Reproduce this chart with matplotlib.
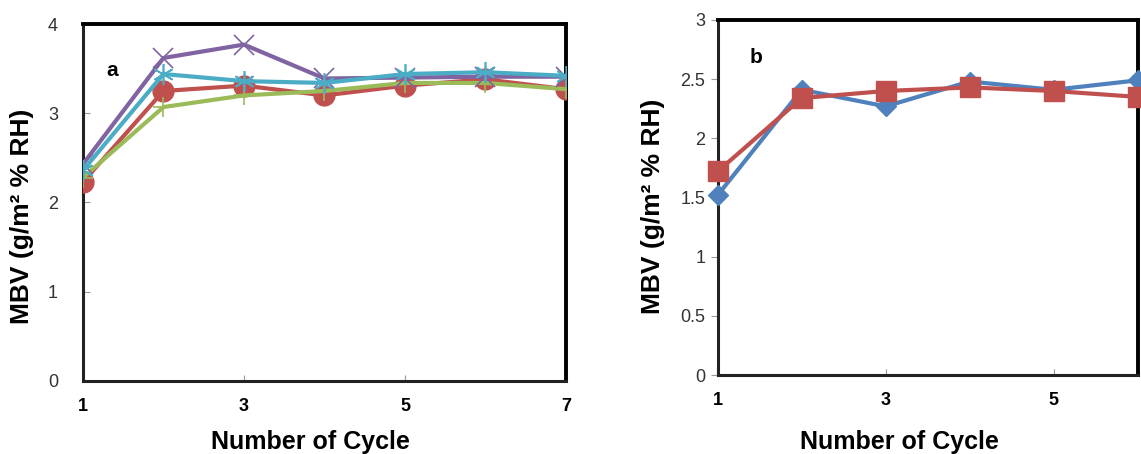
import matplotlib
matplotlib.use('Agg')
import matplotlib.pyplot as plt

plt.rcParams['font.family'] = ['Liberation Sans', 'DejaVu Sans']

cycles_a = [1, 2, 3, 4, 5, 6, 7]
red_a = [2.23, 3.25, 3.31, 3.20, 3.31, 3.38, 3.27]
green_a = [2.28, 3.07, 3.20, 3.25, 3.34, 3.34, 3.27]
purple_a = [2.43, 3.62, 3.77, 3.39, 3.40, 3.41, 3.41]
cyan_a = [2.36, 3.44, 3.36, 3.34, 3.44, 3.46, 3.42]

cycles_b = [1, 2, 3, 4, 5, 6]
blue_b = [1.52, 2.41, 2.27, 2.48, 2.41, 2.49]
red_b = [1.72, 2.34, 2.40, 2.43, 2.40, 2.35]

fig = plt.figure(figsize=(11.41, 4.54), dpi=100)


def style(ax, ydir, ypad, ylab_xy, xlab_xy):
    for s in ['top', 'right']:
        ax.spines[s].set_linewidth(2.8)
        ax.spines[s].set_color('black')
    for s in ['left', 'bottom']:
        ax.spines[s].set_linewidth(2.2)
        ax.spines[s].set_color('#222222')
    ax.tick_params(axis='y', direction=ydir, length=5, width=0.8, color='#999999',
                   labelsize=13, labelcolor='#333333', pad=ypad)
    ax.tick_params(axis='x', direction='in', length=4, width=0.8, color='#999999',
                   labelsize=13, pad=12)
    for lab in ax.get_xticklabels():
        lab.set_fontweight('bold')
    ax.set_xlabel('Number of Cycle', fontsize=18, fontweight='bold')
    ax.set_ylabel('MBV (g/m² % RH)', fontsize=19, fontweight='bold')
    ax.yaxis.set_label_coords(*ylab_xy)
    ax.xaxis.set_label_coords(*xlab_xy)
    ax.xaxis.label.set_va('center')
    ax.yaxis.label.set_va('center')


# panel a
ax1 = fig.add_axes([0.0727, 0.161, 0.4233, 0.786])
ax1.plot(cycles_a, red_a, color='#C0504D', lw=3, marker='o', ms=15, zorder=3)
ax1.plot(cycles_a, green_a, color='#9BBB59', lw=3, marker='+', ms=14, mew=1.2, zorder=3)
ax1.plot(cycles_a, purple_a, color='#8064A2', lw=3, marker='x', ms=14, mew=1.2, zorder=3)
ax1.plot(cycles_a, cyan_a, color='#4BACC6', lw=3, marker=(6, 2, 0), ms=15, mew=1.2, zorder=3)
ax1.set_xlim(1, 7)
ax1.set_ylim(0, 4)
ax1.set_xticks([1, 3, 5, 7])
ax1.set_yticks([0, 1, 2, 3, 4])
style(ax1, 'in', 18, (-0.126, 0.462), (0.47, -0.171))
ax1.text(0.048, 0.871, 'a', transform=ax1.transAxes, fontsize=15, fontweight='bold', va='center')

# panel b
ax2 = fig.add_axes([0.629, 0.174, 0.368, 0.782])
ax2.plot(cycles_b, blue_b, color='#4F81BD', lw=3, marker='D', ms=10, zorder=3, clip_on=False)
ax2.plot(cycles_b, red_b, color='#C0504D', lw=3, marker='s', ms=15, zorder=3, clip_on=False)
ax2.set_xlim(1, 6)
ax2.set_ylim(0, 3)
ax2.set_xticks([1, 3, 5])
ax2.set_yticks([0, 0.5, 1, 1.5, 2, 2.5, 3])
ax2.set_yticklabels(['0', '0.5', '1', '1.5', '2', '2.5', '3'])
style(ax2, 'out', 4, (-0.155, 0.476), (0.433, -0.189))
ax2.text(0.076, 0.893, 'b', transform=ax2.transAxes, fontsize=15, fontweight='bold', va='center')

fig.savefig('out.png', dpi=100)
